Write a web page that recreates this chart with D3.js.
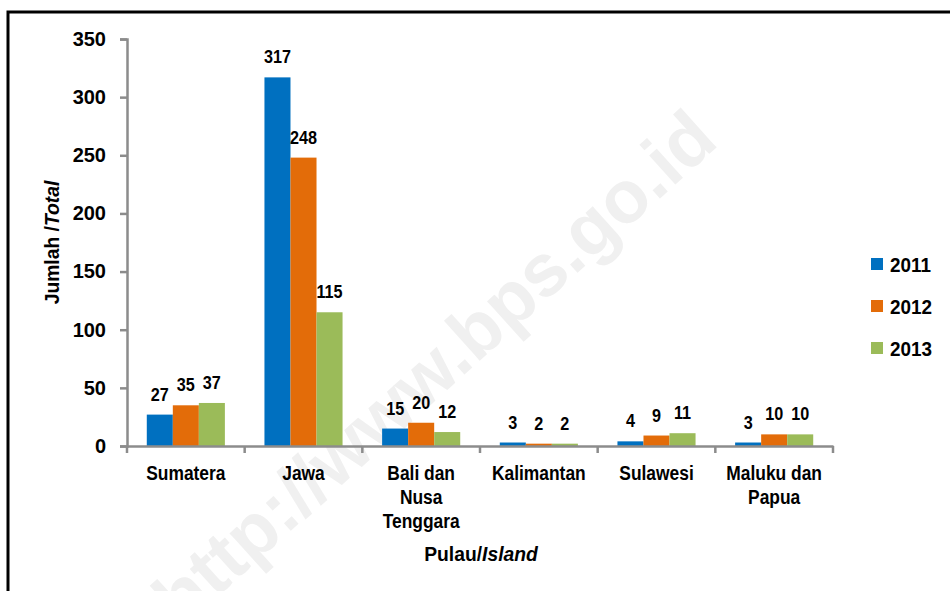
<!DOCTYPE html>
<html>
<head>
<meta charset="utf-8">
<script src="https://cdn.jsdelivr.net/npm/d3@7"></script>
<style>
  body { margin: 0; background: #fff; }
  svg { display: block; }
</style>
</head>
<body>
<svg width="950" height="591"></svg>
<script>
const islands = ["Sumatera", "Jawa", "Bali dan Nusa Tenggara", "Kalimantan", "Sulawesi", "Maluku dan Papua"];
const islandLines = [["Sumatera"], ["Jawa"], ["Bali dan", "Nusa", "Tenggara"], ["Kalimantan"], ["Sulawesi"], ["Maluku dan", "Papua"]];
const years = ["2011", "2012", "2013"];
const values2011 = [27, 317, 15, 3, 4, 3];
const values2012 = [35, 248, 20, 2, 9, 10];
const values2013 = [37, 115, 12, 2, 11, 10];
const yTicks = [0, 50, 100, 150, 200, 250, 300, 350];

const width = 950, height = 591;
const margin = { top: 39, right: 117, bottom: 145, left: 127 };
const plotW = width - margin.left - margin.right;
const plotH = height - margin.top - margin.bottom;
const colors = ["#0070c0", "#e36c09", "#9bbb59"];
const font = "'Liberation Sans', Arial, sans-serif";

const seriesByYear = [values2011, values2012, values2013];
const rows = islands.map((name, i) => ({
  name,
  lines: islandLines[i],
  vals: years.map((y, j) => ({ year: y, value: seriesByYear[j][i] }))
}));

// the original uses a narrow font, so squeeze the text sideways
const squeeze = (x, y, sx) => `translate(${x},${y}) scale(${sx},1)`;

const svg = d3.select("svg").attr("font-family", font);

// frame round the chart (runs off the right and bottom edges)
svg.append("rect")
  .attr("x", 8).attr("y", 12)
  .attr("width", 1000).attr("height", 700)
  .attr("fill", "none")
  .attr("stroke", "#000")
  .attr("stroke-width", 3);

// watermark
svg.append("text")
  .attr("transform", "translate(438,372) rotate(-42)")
  .attr("text-anchor", "middle")
  .attr("dominant-baseline", "middle")
  .attr("font-weight", "bold")
  .attr("font-size", 74)
  .attr("fill", "#f0f0f0")
  .text("http://www.bps.go.id");

const g = svg.append("g").attr("transform", `translate(${margin.left},${margin.top})`);

const x0 = d3.scaleBand().domain(islands).range([0, plotW]).paddingInner(0).paddingOuter(0);
const x1 = d3.scaleBand().domain(years).range([0, x0.bandwidth()]).paddingInner(0).paddingOuter(0.76);
const y = d3.scaleLinear().domain([0, 350]).range([plotH, 0]);

// y axis
const yAxis = g.append("g")
  .call(d3.axisLeft(y).tickValues(yTicks).tickSize(7).tickPadding(14));
yAxis.select(".domain").attr("stroke", "#8c8c8c").attr("stroke-width", 2.5);
yAxis.selectAll(".tick line").attr("stroke", "#8c8c8c").attr("stroke-width", 2.5);
yAxis.selectAll(".tick text")
  .attr("font-family", font)
  .attr("font-size", 20)
  .attr("font-weight", "bold")
  .attr("fill", "#000");

// bars
const groups = g.append("g")
  .selectAll("g")
  .data(rows)
  .join("g")
  .attr("transform", (d) => `translate(${x0(d.name)},0)`);

groups.selectAll("rect")
  .data((d) => d.vals)
  .join("rect")
  .attr("x", (d) => x1(d.year))
  .attr("y", (d) => y(d.value))
  .attr("width", x1.bandwidth())
  .attr("height", (d) => plotH - y(d.value))
  .attr("fill", (d, i) => colors[i]);

groups.selectAll("text")
  .data((d) => d.vals)
  .join("text")
  .attr("transform", (d) => squeeze(x1(d.year) + x1.bandwidth() / 2, y(d.value) - 14, 0.9))
  .attr("text-anchor", "middle")
  .attr("font-size", 18)
  .attr("font-weight", "bold")
  .text((d) => d.value);

// x axis
const xAxis = g.append("g")
  .attr("transform", `translate(0,${plotH})`)
  .call(d3.axisBottom(x0).tickSize(0).tickFormat(""));
xAxis.select(".domain").attr("stroke", "#8c8c8c").attr("stroke-width", 2.5);

const bounds = islands.map((d) => x0(d)).concat([plotW]);
xAxis.selectAll(".bound")
  .data(bounds)
  .join("line")
  .attr("class", "bound")
  .attr("x1", (d) => d).attr("x2", (d) => d)
  .attr("y1", 0).attr("y2", 7)
  .attr("stroke", "#8c8c8c")
  .attr("stroke-width", 2.5);

const catLabels = xAxis.selectAll(".cat")
  .data(rows)
  .join("text")
  .attr("class", "cat")
  .attr("transform", (d) => squeeze(x0(d.name) + x0.bandwidth() / 2, 34, 0.87))
  .attr("text-anchor", "middle")
  .attr("font-size", 20)
  .attr("font-weight", "bold")
  .attr("fill", "#000");
catLabels.selectAll("tspan")
  .data((d) => d.lines)
  .join("tspan")
  .attr("x", 0)
  .attr("dy", (d, i) => (i === 0 ? 0 : 24))
  .text((d) => d);

// axis titles
const xTitle = svg.append("text")
  .attr("transform", squeeze(margin.left + plotW / 2 + 1, 561, 0.92))
  .attr("text-anchor", "middle")
  .attr("font-size", 21)
  .attr("font-weight", "bold");
xTitle.append("tspan").text("Pulau/");
xTitle.append("tspan").attr("font-style", "italic").text("Island");

const yTitle = svg.append("text")
  .attr("transform", `translate(59,${margin.top + plotH / 2}) rotate(-90) scale(0.92,1)`)
  .attr("text-anchor", "middle")
  .attr("font-size", 21)
  .attr("font-weight", "bold");
yTitle.append("tspan").text("Jumlah /");
yTitle.append("tspan").attr("font-style", "italic").text("Total");

// legend
const legend = svg.append("g")
  .selectAll("g")
  .data(years)
  .join("g")
  .attr("transform", (d, i) => `translate(871,${264 + i * 42})`);
legend.append("rect")
  .attr("x", 0).attr("y", -6)
  .attr("width", 12).attr("height", 12)
  .attr("fill", (d, i) => colors[i]);
legend.append("text")
  .attr("transform", squeeze(19, 8, 0.9))
  .attr("font-size", 21)
  .attr("font-weight", "bold")
  .text((d) => d);
</script>
</body>
</html>
